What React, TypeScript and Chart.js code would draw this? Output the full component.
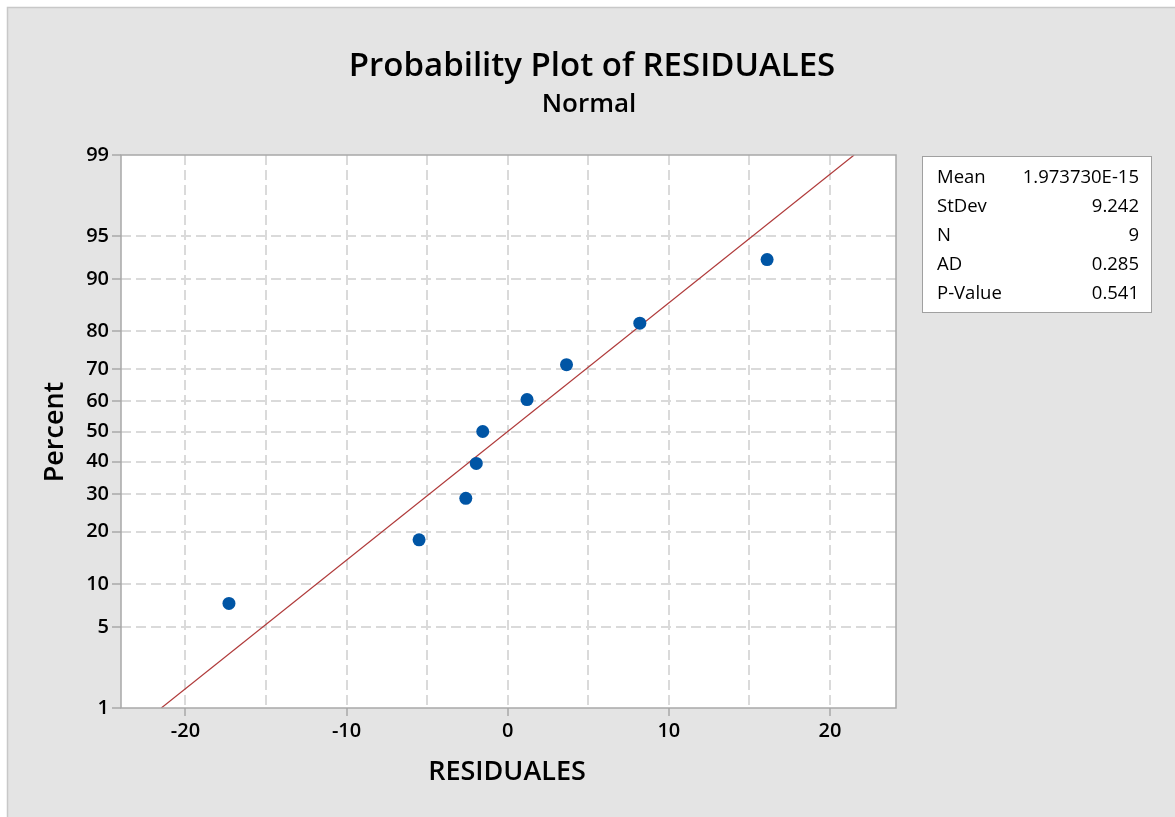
import React, { useEffect, useRef } from "react";
import { Chart, registerables } from "chart.js";

Chart.register(...registerables);

// ---- Data ----
const residuals = [-17.3, -5.5, -2.6, -1.95, -1.55, 1.2, 3.65, 8.2, 16.1];
const percents = [7.4, 18.1, 28.7, 39.4, 50, 60.6, 71.3, 81.9, 92.6];
const fitResiduals = [-21.5, 21.5];
const fitPercents = [1, 99];
const yTickPercents = [1, 5, 10, 20, 30, 40, 50, 60, 70, 80, 90, 95, 99];
const xGridValues = [-20, -15, -10, -5, 0, 5, 10, 15, 20];
const xLabelValues = [-20, -10, 0, 10, 20];
const statLabels = ["Mean", "StDev", "N", "AD", "P-Value"];
const statValues = ["1.973730E-15", "9.242", "9", "0.285", "0.541"];

const titleText = "Probability Plot of RESIDUALES";
const subtitleText = "Normal";
const xTitle = "RESIDUALES";
const yTitle = "Percent";

const FONT = "'Open Sans', 'Noto Sans', sans-serif";

// inverse standard normal CDF (Acklam) – maps percent to probit axis position
function invNorm(p: number): number {
  const a = [-3.969683028665376e1, 2.209460984245205e2, -2.759285104469687e2, 1.38357751867269e2, -3.066479806614716e1, 2.506628277459239];
  const b = [-5.447609879822406e1, 1.615858368580409e2, -1.556989798598866e2, 6.680131188771972e1, -1.328068155288572e1];
  const c = [-7.784894002430293e-3, -3.223964580411365e-1, -2.400758277161838, -2.549732539343734, 4.374664141464968, 2.938163982698783];
  const d = [7.784695709041462e-3, 3.224671290700398e-1, 2.445134137142996, 3.754408661907416];
  const plow = 0.02425;
  const phigh = 1 - plow;
  if (p < plow) {
    const q = Math.sqrt(-2 * Math.log(p));
    return (((((c[0] * q + c[1]) * q + c[2]) * q + c[3]) * q + c[4]) * q + c[5]) / ((((d[0] * q + d[1]) * q + d[2]) * q + d[3]) * q + 1);
  }
  if (p <= phigh) {
    const q = p - 0.5;
    const r = q * q;
    return ((((((a[0] * r + a[1]) * r + a[2]) * r + a[3]) * r + a[4]) * r + a[5]) * q) / (((((b[0] * r + b[1]) * r + b[2]) * r + b[3]) * r + b[4]) * r + 1);
  }
  const q = Math.sqrt(-2 * Math.log(1 - p));
  return -(((((c[0] * q + c[1]) * q + c[2]) * q + c[3]) * q + c[4]) * q + c[5]) / ((((d[0] * q + d[1]) * q + d[2]) * q + d[3]) * q + 1);
}
const z = (pct: number) => invNorm(pct / 100);

const W = 1175;
const H = 817;

const decorPlugin = {
  id: "decor",
  beforeDraw(chart: any) {
    const { ctx, chartArea } = chart;
    ctx.save();
    ctx.fillStyle = "#ffffff";
    ctx.fillRect(0, 0, W, H);
    ctx.fillStyle = "#e4e4e4";
    ctx.fillRect(7, 7, W - 7, H - 7);
    ctx.strokeStyle = "#c8c8c8";
    ctx.lineWidth = 1.5;
    ctx.beginPath();
    ctx.moveTo(7.5, H);
    ctx.lineTo(7.5, 7.5);
    ctx.lineTo(W, 7.5);
    ctx.stroke();
    ctx.fillStyle = "#ffffff";
    ctx.fillRect(chartArea.left, chartArea.top, chartArea.right - chartArea.left, chartArea.bottom - chartArea.top);
    ctx.restore();
  },
  afterDraw(chart: any) {
    const { ctx, chartArea } = chart;
    ctx.save();
    // frame
    ctx.strokeStyle = "#a8a8a8";
    ctx.lineWidth = 1.5;
    ctx.strokeRect(chartArea.left, chartArea.top, chartArea.right - chartArea.left, chartArea.bottom - chartArea.top);

    ctx.fillStyle = "#000000";
    ctx.textAlign = "center";
    ctx.textBaseline = "alphabetic";
    ctx.font = `600 33px ${FONT}`;
    ctx.fillText(titleText, 592, 76);
    ctx.font = `600 26px ${FONT}`;
    ctx.fillText(subtitleText, 589, 112);

    ctx.font = `600 27px ${FONT}`;
    ctx.fillText(xTitle, 507, 780);

    ctx.save();
    ctx.translate(63, 432);
    ctx.rotate(-Math.PI / 2);
    ctx.fillText(yTitle, 0, 0);
    ctx.restore();

    // stats box
    ctx.fillStyle = "#ffffff";
    ctx.fillRect(922, 156, 230, 157);
    ctx.strokeStyle = "#a0a0a0";
    ctx.lineWidth = 1;
    ctx.strokeRect(922.5, 156.5, 229, 156);
    ctx.fillStyle = "#000000";
    ctx.font = `500 18.5px ${FONT}`;
    ctx.textBaseline = "middle";
    statLabels.forEach((lab, i) => {
      const y = 178 + 29 * i;
      ctx.textAlign = "left";
      ctx.fillText(lab, 937, y);
      ctx.textAlign = "right";
      ctx.fillText(statValues[i], 1139, y);
    });
    ctx.restore();
  },
};

export default function App() {
  const ref = useRef<HTMLCanvasElement | null>(null);

  useEffect(() => {
    if (!ref.current) return;
    const points = residuals.map((x, i) => ({ x, y: z(percents[i]) }));
    const fit = fitResiduals.map((x, i) => ({ x, y: z(fitPercents[i]) }));

    const chart = new Chart(ref.current, {
      type: "scatter",
      data: {
        datasets: [
          {
            label: "Fit",
            data: fit,
            showLine: true,
            borderColor: "#b03a3a",
            borderWidth: 1.2,
            pointRadius: 0,
            order: 2,
          },
          {
            label: "RESIDUALES",
            data: points,
            backgroundColor: "#0055a5",
            borderColor: "#0055a5",
            pointRadius: 6.5,
            pointBorderWidth: 0,
            order: 1,
          },
        ],
      },
      plugins: [decorPlugin],
      options: {
        responsive: false,
        animation: false,
        devicePixelRatio: 1,
        layout: { padding: { left: 0, top: 155, right: W - 896, bottom: 0 } },
        plugins: {
          legend: { display: false },
          title: { display: false },
          tooltip: { enabled: false },
        },
        scales: {
          x: {
            type: "linear",
            min: -24,
            max: 24.1,
            afterBuildTicks: (scale: any) => {
              scale.ticks = xGridValues.map((v) => ({ value: v }));
            },
            afterFit: (scale: any) => {
              scale.height = H - 708;
            },
            ticks: {
              autoSkip: false,
              maxRotation: 0,
              padding: 3,
              color: "#000000",
              font: { family: FONT, size: 20, weight: "600" },
              callback: (value: any) => (xLabelValues.includes(Number(value)) ? String(value) : ""),
            },
            grid: {
              color: "#dadada",
              lineWidth: 2,
              tickLength: 8,
              tickColor: (ctx: any) =>
                ctx.tick && xLabelValues.includes(ctx.tick.value) ? "#a8a8a8" : "rgba(0,0,0,0)",
              tickWidth: 1.5,
              tickBorderDash: [],
            },
            border: { display: false, dash: [10, 5] },
          },
          y: {
            type: "linear",
            min: z(1),
            max: z(99),
            afterBuildTicks: (scale: any) => {
              scale.ticks = yTickPercents.map((p) => ({ value: z(p) }));
            },
            afterFit: (scale: any) => {
              scale.width = 121;
            },
            ticks: {
              autoSkip: false,
              padding: 3,
              color: "#000000",
              font: { family: FONT, size: 20, weight: "600" },
              callback: (_v: any, index: number) => String(yTickPercents[index]),
            },
            grid: {
              color: (ctx: any) =>
                ctx.tick && (ctx.index === 0 || ctx.index === yTickPercents.length - 1) ? "rgba(0,0,0,0)" : "#dadada",
              lineWidth: 2,
              tickLength: 9,
              tickColor: "#a8a8a8",
              tickWidth: 1.5,
              tickBorderDash: [],
            },
            border: { display: false, dash: [10, 5] },
          },
        },
      },
    } as any);

    return () => chart.destroy();
  }, []);

  return (
    <div style={{ position: "absolute", left: 0, top: 0, width: W, height: H }}>
      <canvas ref={ref} width={W} height={H} style={{ display: "block" }} />
    </div>
  );
}
